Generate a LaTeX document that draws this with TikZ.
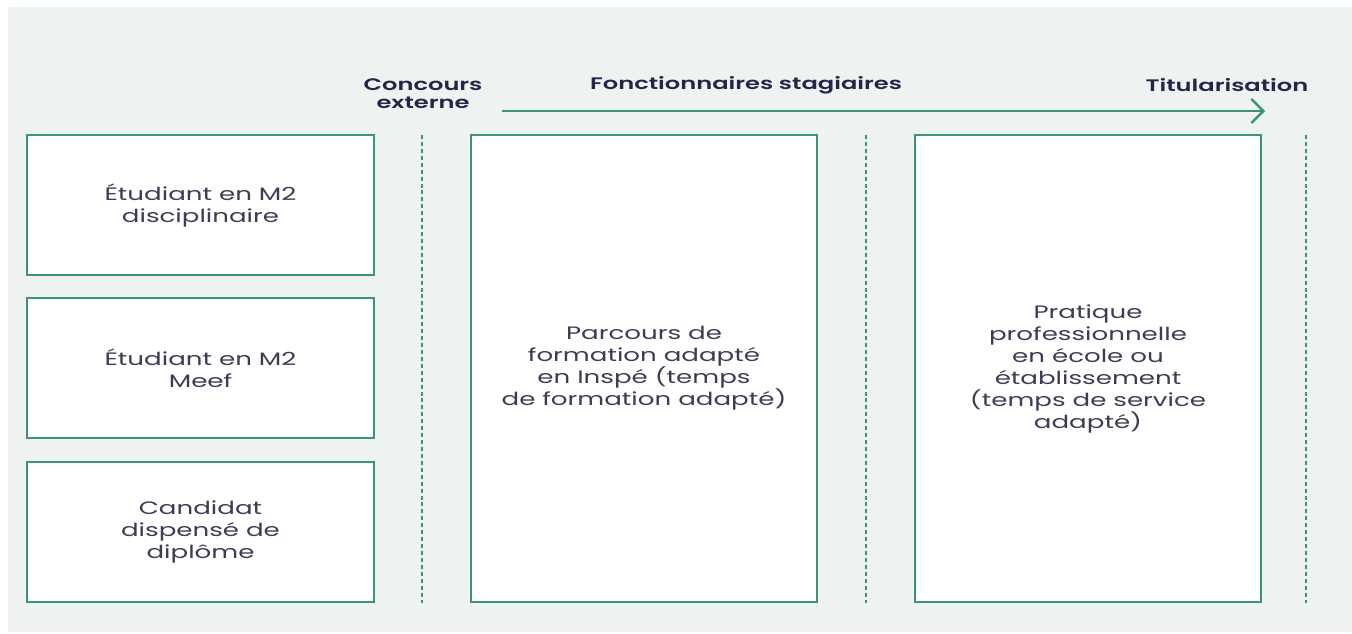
\documentclass[tikz,border=0pt]{standalone}
\usepackage{fontspec}
\setmainfont{Poppins}
\newfontfamily\boxfont{Poppins}[FakeStretch=1.45]
\newfontfamily\labfont{Poppins SemiBold}[FakeStretch=1.45]
\usetikzlibrary{arrows.meta}
\definecolor{bgc}{HTML}{EEF3F1}
\definecolor{grn}{HTML}{3A9479}
\definecolor{navy}{HTML}{25254A}
\definecolor{txt}{HTML}{3C3C55}
\begin{document}
\begin{tikzpicture}[x=0.75pt,y=-0.75pt,
  box/.style={draw=grn,line width=2pt,fill=white,inner sep=0pt,align=center,text=txt,font=\boxfont\fontsize{13.5}{16.5}\selectfont},
  sep/.style={draw=grn,line width=1.6pt,dash pattern=on 3pt off 2.2pt},
  lab/.style={text=navy,font=\labfont\fontsize{12.5}{13.5}\selectfont,align=center,inner sep=0pt}]
\useasboundingbox (0,0) rectangle (1352,634);
\fill[white] (0,0) rectangle (1352,634);
\fill[bgc] (8,7) rectangle (1352,632);
\node[box,minimum width=347*0.75pt,minimum height=140*0.75pt] (b1) at (200.5,205) {Étudiant en M2\\disciplinaire};
\node[box,minimum width=347*0.75pt,minimum height=140*0.75pt] (b2) at (200.5,368) {Étudiant en M2\\Meef};
\node[box,minimum width=347*0.75pt,minimum height=140*0.75pt] (b3) at (200.5,532) {Candidat\\dispensé de\\diplôme};
\node[box,minimum width=346*0.75pt,minimum height=467*0.75pt] (m) at (644,368.5) {Parcours de\\formation adapté\\en Inspé (temps\\de formation adapté)};
\node[box,minimum width=346*0.75pt,minimum height=467*0.75pt] (r) at (1088,368.5) {Pratique\\professionnelle\\en école ou\\établissement\\(temps de service\\adapté)};
\coordinate (d1t) at (422,135); \coordinate (d1b) at (422,603);
\coordinate (d2t) at (866,135); \coordinate (d2b) at (866,603);
\coordinate (d3t) at (1306,135); \coordinate (d3b) at (1306,603);
\draw[sep] (d1t) -- (d1b);
\draw[sep] (d2t) -- (d2b);
\draw[sep] (d3t) -- (d3b);
\node[lab] (l1) at (423,94) {Concours\\externe};
\node[lab] (l2) at (746,85) {Fonctionnaires stagiaires};
\node[lab] (l3) at (1227,85) {Titularisation};
\coordinate (as) at (502,111); \coordinate (ae) at (1265,111);
\draw[grn,line width=1.8pt,-{Straight Barb[length=9pt,width=18pt,line width=1.8pt]}] (as) -- (ae);
\end{tikzpicture}
\end{document}
